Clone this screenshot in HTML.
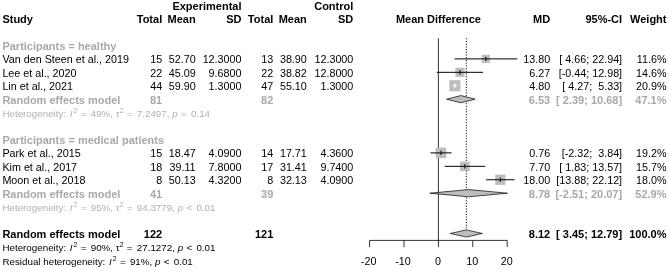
<!DOCTYPE html>
<html><head><meta charset="utf-8"><style>
html,body{margin:0;padding:0;background:#fff;}
#c{filter:blur(0.35px);position:relative;width:669px;height:270px;overflow:hidden;background:#fff;font-family:"Liberation Sans",sans-serif;font-size:10.75px;color:#000;}
.t{position:absolute;white-space:pre;line-height:1;transform:translateY(-100%);margin-top:0.1535em;}
.b{font-weight:bold;font-size:11px;}
.op{margin:0 4.2px 0 3.4px;}
.I{margin:0 1px 0 1px;}
sup{font-size:70%;vertical-align:baseline;position:relative;top:-0.45em;line-height:0;}
svg{position:absolute;left:0;top:0;}
</style></head><body><div id="c">
<svg width="669" height="270" viewBox="0 0 669 270">
<line x1="438.40" y1="38.3" x2="438.40" y2="240.4" stroke="#000" stroke-width="0.8"/>
<line x1="466.33" y1="38.3" x2="466.33" y2="233.48" stroke="#000" stroke-width="1" stroke-dasharray="1.1 1.6"/>
<line x1="369.60" y1="240.4" x2="507.20" y2="240.4" stroke="#000" stroke-width="0.8"/>
<line x1="369.60" y1="240.4" x2="369.60" y2="247.1" stroke="#000" stroke-width="0.8"/>
<line x1="404.00" y1="240.4" x2="404.00" y2="247.1" stroke="#000" stroke-width="0.8"/>
<line x1="438.40" y1="240.4" x2="438.40" y2="247.1" stroke="#000" stroke-width="0.8"/>
<line x1="472.80" y1="240.4" x2="472.80" y2="247.1" stroke="#000" stroke-width="0.8"/>
<line x1="507.20" y1="240.4" x2="507.20" y2="247.1" stroke="#000" stroke-width="0.8"/>
<rect x="481.72" y="54.74" width="8.3" height="8.3" fill="#bebebe"/>
<line x1="454.43" y1="58.89" x2="517.31" y2="58.89" stroke="#000" stroke-width="1"/>
<line x1="485.87" y1="56.69" x2="485.87" y2="61.09" stroke="#000" stroke-width="1"/>
<rect x="455.37" y="67.72" width="9.2" height="9.2" fill="#bebebe"/>
<line x1="436.89" y1="72.32" x2="483.05" y2="72.32" stroke="#000" stroke-width="1"/>
<line x1="459.97" y1="70.12" x2="459.97" y2="74.52" stroke="#000" stroke-width="1"/>
<rect x="449.36" y="80.20" width="11.1" height="11.1" fill="#bebebe"/>
<line x1="453.09" y1="85.75" x2="456.74" y2="85.75" stroke="#000" stroke-width="1"/>
<line x1="452.49" y1="85.75" x2="457.34" y2="85.75" stroke="#fff" stroke-width="1.3"/>
<line x1="454.91" y1="83.55" x2="454.91" y2="87.95" stroke="#fff" stroke-width="1.3"/>
<rect x="435.71" y="147.60" width="10.6" height="10.6" fill="#bebebe"/>
<line x1="430.42" y1="152.90" x2="451.61" y2="152.90" stroke="#000" stroke-width="1"/>
<line x1="441.01" y1="150.70" x2="441.01" y2="155.10" stroke="#000" stroke-width="1"/>
<rect x="460.09" y="161.53" width="9.6" height="9.6" fill="#bebebe"/>
<line x1="444.70" y1="166.33" x2="485.08" y2="166.33" stroke="#000" stroke-width="1"/>
<line x1="464.89" y1="164.13" x2="464.89" y2="168.53" stroke="#000" stroke-width="1"/>
<rect x="495.17" y="174.61" width="10.3" height="10.3" fill="#bebebe"/>
<line x1="486.15" y1="179.76" x2="514.49" y2="179.76" stroke="#000" stroke-width="1"/>
<line x1="500.32" y1="177.56" x2="500.32" y2="181.96" stroke="#000" stroke-width="1"/>
<polygon points="446.62,99.18 460.86,95.58 475.14,99.18 460.86,102.78" fill="#bebebe" stroke="#000" stroke-width="0.7"/>
<polygon points="429.77,193.19 468.60,189.59 507.44,193.19 468.60,196.79" fill="#bebebe" stroke="#000" stroke-width="0.7"/>
<polygon points="450.27,233.48 466.33,229.88 482.40,233.48 466.33,237.08" fill="#bebebe" stroke="#000" stroke-width="0.7"/>
</svg>
<div class="t b" style="top:10.00px;right:427.50px;">Experimental</div>
<div class="t b" style="top:10.00px;right:315.70px;">Control</div>
<div class="t b" style="top:23.00px;left:2.40px;">Study</div>
<div class="t b" style="top:23.00px;right:506.80px;">Total</div>
<div class="t b" style="top:23.00px;right:473.40px;">Mean</div>
<div class="t b" style="top:23.00px;right:427.50px;">SD</div>
<div class="t b" style="top:23.00px;right:395.70px;">Total</div>
<div class="t b" style="top:23.00px;right:362.20px;">Mean</div>
<div class="t b" style="top:23.00px;right:315.70px;">SD</div>
<div class="t b" style="top:23.00px;right:118.80px;">MD</div>
<div class="t b" style="top:23.00px;right:46.90px;">95%-CI</div>
<div class="t b" style="top:23.00px;right:2.50px;">Weight</div>
<div class="t b" style="top:23.00px;left:438.40px;transform:translate(-50%,-100%);">Mean Difference</div>
<div class="t" style="top:63.00px;left:2.40px;">Van den Steen et al., 2019</div>
<div class="t" style="top:63.00px;right:506.80px;">15</div>
<div class="t" style="top:63.00px;right:473.40px;">52.70</div>
<div class="t" style="top:63.00px;right:427.50px;">12.3000</div>
<div class="t" style="top:63.00px;right:395.70px;">13</div>
<div class="t" style="top:63.00px;right:362.20px;">38.90</div>
<div class="t" style="top:63.00px;right:315.70px;">12.3000</div>
<div class="t" style="top:63.00px;right:118.80px;">13.80</div>
<div class="t" style="top:63.00px;right:46.90px;">[ 4.66; 22.94]</div>
<div class="t" style="top:63.00px;right:2.50px;">11.6%</div>
<div class="t" style="top:77.00px;left:2.40px;">Lee et al., 2020</div>
<div class="t" style="top:77.00px;right:506.80px;">22</div>
<div class="t" style="top:77.00px;right:473.40px;">45.09</div>
<div class="t" style="top:77.00px;right:427.50px;">9.6800</div>
<div class="t" style="top:77.00px;right:395.70px;">22</div>
<div class="t" style="top:77.00px;right:362.20px;">38.82</div>
<div class="t" style="top:77.00px;right:315.70px;">12.8000</div>
<div class="t" style="top:77.00px;right:118.80px;">6.27</div>
<div class="t" style="top:77.00px;right:46.90px;">[-0.44; 12.98]</div>
<div class="t" style="top:77.00px;right:2.50px;">14.6%</div>
<div class="t" style="top:90.00px;left:2.40px;">Lin et al., 2021</div>
<div class="t" style="top:90.00px;right:506.80px;">44</div>
<div class="t" style="top:90.00px;right:473.40px;">59.90</div>
<div class="t" style="top:90.00px;right:427.50px;">1.3000</div>
<div class="t" style="top:90.00px;right:395.70px;">47</div>
<div class="t" style="top:90.00px;right:362.20px;">55.10</div>
<div class="t" style="top:90.00px;right:315.70px;">1.3000</div>
<div class="t" style="top:90.00px;right:118.80px;">4.80</div>
<div class="t" style="top:90.00px;right:46.90px;">[ 4.27;  5.33]</div>
<div class="t" style="top:90.00px;right:2.50px;">20.9%</div>
<div class="t" style="top:157.00px;left:2.40px;">Park et al., 2015</div>
<div class="t" style="top:157.00px;right:506.80px;">15</div>
<div class="t" style="top:157.00px;right:473.40px;">18.47</div>
<div class="t" style="top:157.00px;right:427.50px;">4.0900</div>
<div class="t" style="top:157.00px;right:395.70px;">14</div>
<div class="t" style="top:157.00px;right:362.20px;">17.71</div>
<div class="t" style="top:157.00px;right:315.70px;">4.3600</div>
<div class="t" style="top:157.00px;right:118.80px;">0.76</div>
<div class="t" style="top:157.00px;right:46.90px;">[-2.32;  3.84]</div>
<div class="t" style="top:157.00px;right:2.50px;">19.2%</div>
<div class="t" style="top:171.00px;left:2.40px;">Kim et al., 2017</div>
<div class="t" style="top:171.00px;right:506.80px;">18</div>
<div class="t" style="top:171.00px;right:473.40px;">39.11</div>
<div class="t" style="top:171.00px;right:427.50px;">7.8000</div>
<div class="t" style="top:171.00px;right:395.70px;">17</div>
<div class="t" style="top:171.00px;right:362.20px;">31.41</div>
<div class="t" style="top:171.00px;right:315.70px;">9.7400</div>
<div class="t" style="top:171.00px;right:118.80px;">7.70</div>
<div class="t" style="top:171.00px;right:46.90px;">[ 1.83; 13.57]</div>
<div class="t" style="top:171.00px;right:2.50px;">15.7%</div>
<div class="t" style="top:184.00px;left:2.40px;">Moon et al., 2018</div>
<div class="t" style="top:184.00px;right:506.80px;">8</div>
<div class="t" style="top:184.00px;right:473.40px;">50.13</div>
<div class="t" style="top:184.00px;right:427.50px;">4.3200</div>
<div class="t" style="top:184.00px;right:395.70px;">8</div>
<div class="t" style="top:184.00px;right:362.20px;">32.13</div>
<div class="t" style="top:184.00px;right:315.70px;">4.0900</div>
<div class="t" style="top:184.00px;right:118.80px;">18.00</div>
<div class="t" style="top:184.00px;right:46.90px;">[13.88; 22.12]</div>
<div class="t" style="top:184.00px;right:2.50px;">18.0%</div>
<div class="t b" style="top:50.00px;left:2.40px;color:#a9a9a9;">Participants = healthy</div>
<div class="t b" style="top:144.00px;left:2.40px;color:#a9a9a9;">Participants = medical patients</div>
<div class="t b" style="top:104.00px;left:2.40px;color:#a9a9a9;">Random effects model</div>
<div class="t b" style="top:104.00px;right:506.80px;color:#a9a9a9;">81</div>
<div class="t b" style="top:104.00px;right:395.70px;color:#a9a9a9;">82</div>
<div class="t b" style="top:104.00px;right:118.80px;color:#a9a9a9;">6.53</div>
<div class="t b" style="top:104.00px;right:46.90px;color:#a9a9a9;">[ 2.39; 10.68]</div>
<div class="t b" style="top:104.00px;right:2.50px;color:#a9a9a9;">47.1%</div>
<div class="t b" style="top:198.00px;left:2.40px;color:#a9a9a9;">Random effects model</div>
<div class="t b" style="top:198.00px;right:506.80px;color:#a9a9a9;">41</div>
<div class="t b" style="top:198.00px;right:395.70px;color:#a9a9a9;">39</div>
<div class="t b" style="top:198.00px;right:118.80px;color:#a9a9a9;">8.78</div>
<div class="t b" style="top:198.00px;right:46.90px;color:#a9a9a9;">[-2.51; 20.07]</div>
<div class="t b" style="top:198.00px;right:2.50px;color:#a9a9a9;">52.9%</div>
<div class="t b" style="top:238.00px;left:2.40px;">Random effects model</div>
<div class="t b" style="top:238.00px;right:506.80px;">122</div>
<div class="t b" style="top:238.00px;right:395.70px;">121</div>
<div class="t b" style="top:238.00px;right:118.80px;">8.12</div>
<div class="t b" style="top:238.00px;right:46.90px;">[ 3.45; 12.79]</div>
<div class="t b" style="top:238.00px;right:2.50px;">100.0%</div>
<div class="t" style="top:117.00px;left:2.40px;color:#b0b0b0;font-size:9.8px;">Heterogeneity: <i class="I">I</i><sup>2</sup><span class="op">=</span>49%, τ<sup>2</sup><span class="op">=</span>7.2497, <i>p</i><span class="op">=</span>0.14</div>
<div class="t" style="top:211.00px;left:2.40px;color:#b0b0b0;font-size:9.8px;">Heterogeneity: <i class="I">I</i><sup>2</sup><span class="op">=</span>95%, τ<sup>2</sup><span class="op">=</span>94.3779, <i>p</i><span class="op">&lt;</span>0.01</div>
<div class="t" style="top:251.00px;left:2.40px;font-size:9.8px;">Heterogeneity: <i class="I">I</i><sup>2</sup><span class="op">=</span>90%, τ<sup>2</sup><span class="op">=</span>27.1272, <i>p</i><span class="op">&lt;</span>0.01</div>
<div class="t" style="top:265.00px;left:2.40px;font-size:9.8px;">Residual heterogeneity: <i class="I">I</i><sup>2</sup><span class="op">=</span>91%, <i>p</i><span class="op">&lt;</span>0.01</div>
<div class="t" style="left:368.60px;top:265.4px;transform:translate(-50%,-100%)">-20</div>
<div class="t" style="left:403.00px;top:265.4px;transform:translate(-50%,-100%)">-10</div>
<div class="t" style="left:437.90px;top:265.4px;transform:translate(-50%,-100%)">0</div>
<div class="t" style="left:472.30px;top:265.4px;transform:translate(-50%,-100%)">10</div>
<div class="t" style="left:506.70px;top:265.4px;transform:translate(-50%,-100%)">20</div>
</div></body></html>
